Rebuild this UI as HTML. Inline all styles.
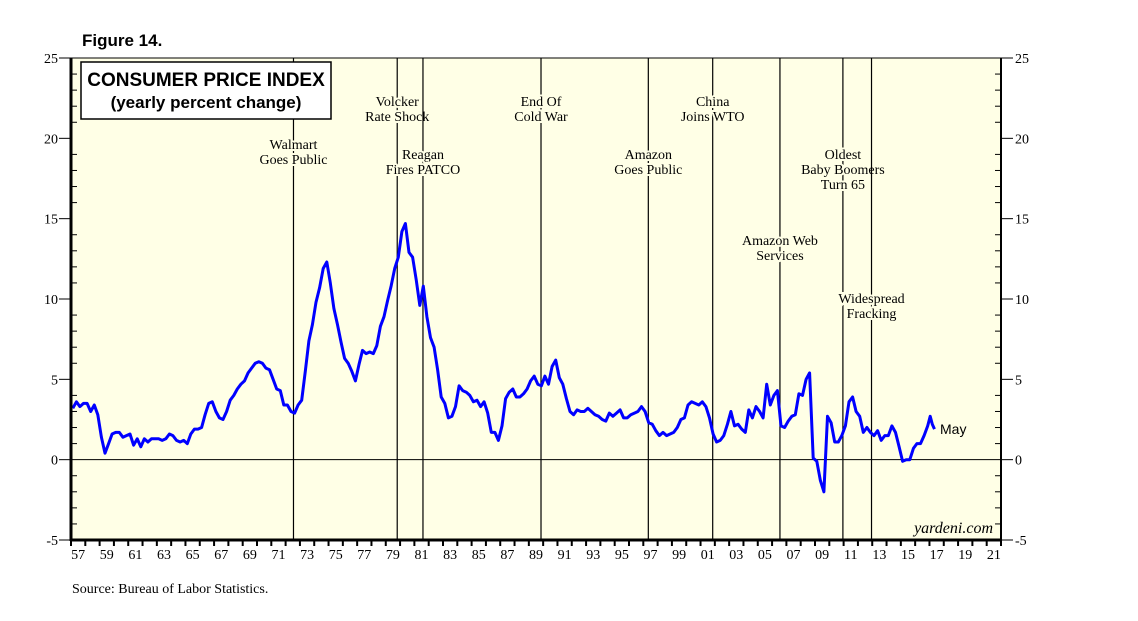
<!DOCTYPE html>
<html><head><meta charset="utf-8"><style>
body{margin:0;background:#fff;}
svg{display:block;}
</style></head><body>
<svg id="chart" width="1138" height="621" xmlns="http://www.w3.org/2000/svg" font-family="Liberation Serif, serif">
<text x="82" y="46" font-family="Liberation Sans, sans-serif" font-weight="bold" font-size="17">Figure 14.</text>
<rect x="71" y="58" width="930" height="482" fill="#ffffe6" stroke="#000" stroke-width="1"/>
<g id="grid"></g>
<g id="events"></g>
<path id="series" fill="none" stroke="#0000ff" stroke-width="3" stroke-linejoin="round"/>
<line x1="71" y1="58" x2="71" y2="541" stroke="#000" stroke-width="3"/>
<line x1="70" y1="540" x2="1001" y2="540" stroke="#000" stroke-width="3"/>
<line x1="1001" y1="58" x2="1001" y2="541" stroke="#000" stroke-width="2"/>
<g id="axes"></g>
<g>
<rect x="81" y="62" width="250" height="57" fill="#fff" stroke="#000" stroke-width="1.5"/>
<text x="206" y="86" text-anchor="middle" font-family="Liberation Sans, sans-serif" font-weight="bold" font-size="19">CONSUMER PRICE INDEX</text>
<text x="206" y="108" text-anchor="middle" font-family="Liberation Sans, sans-serif" font-weight="bold" font-size="17">(yearly percent change)</text>
</g>
<text x="940" y="434" font-family="Liberation Sans, sans-serif" font-size="14">May</text>
<text x="993" y="533" text-anchor="end" font-style="italic" font-size="16">yardeni.com</text>
<text x="72" y="593" font-size="14">Source: Bureau of Labor Statistics.</text>
</svg>
<script>
const years = [1957,1958,1959,1960,1961,1962,1963,1964,1965,1966,1967,1968,1969,1970,1971,1972,1973,1974,1975,1976,1977,1978,1979,1980,1981,1982,1983,1984,1985,1986,1987,1988,1989,1990,1991,1992,1993,1994,1995,1996,1997,1998,1999,2000,2001,2002,2003,2004,2005,2006,2007,2008,2009,2010,2011,2012,2013,2014,2015,2016];
const quarterly = [
[3.2,3.6,3.3,3.5],[3.5,3.0,3.4,2.8],[1.4,0.4,1.0,1.6],[1.7,1.7,1.4,1.5],[1.6,0.9,1.3,0.8],
[1.3,1.1,1.3,1.3],[1.3,1.2,1.3,1.6],[1.5,1.2,1.1,1.2],[1.0,1.6,1.9,1.9],[2.0,2.8,3.5,3.6],
[3.0,2.6,2.5,3.0],[3.7,4.0,4.4,4.7],[4.9,5.4,5.7,6.0],[6.1,6.0,5.7,5.6],[5.0,4.4,4.3,3.4],
[3.4,3.0,2.9,3.4],[3.7,5.5,7.4,8.4],[9.8,10.7,11.9,12.3],[11.0,9.4,8.4,7.3],[6.3,6.0,5.5,4.9],
[5.9,6.8,6.6,6.7],[6.6,7.1,8.3,8.9],[9.9,10.8,11.9,12.6],[14.2,14.7,12.9,12.6],[11.2,9.6,10.8,8.9],
[7.6,7.0,5.6,3.9],[3.5,2.6,2.7,3.3],[4.6,4.3,4.2,4.0],[3.6,3.7,3.3,3.6],[2.9,1.7,1.7,1.2],
[2.1,3.8,4.2,4.4],[3.9,3.9,4.1,4.4],[4.9,5.2,4.7,4.6],[5.2,4.7,5.8,6.2],[5.1,4.7,3.8,3.0],
[2.8,3.1,3.0,3.0],[3.2,3.0,2.8,2.7],[2.5,2.4,2.9,2.7],[2.9,3.1,2.6,2.6],[2.8,2.9,3.0,3.3],
[3.0,2.3,2.2,1.8],[1.5,1.7,1.5,1.6],[1.7,2.0,2.5,2.6],[3.4,3.6,3.5,3.4],[3.6,3.3,2.6,1.6],
[1.1,1.2,1.5,2.2],[3.0,2.1,2.2,1.9],[1.7,3.1,2.6,3.3],[3.0,2.6,4.7,3.4],[4.0,4.3,2.1,2.0],
[2.4,2.7,2.8,4.1],[4.0,5.0,5.4,0.1],[-0.1,-1.3,-2.0,2.7],[2.3,1.1,1.1,1.5],[2.1,3.6,3.9,3.0],
[2.7,1.7,2.0,1.7],[1.5,1.8,1.2,1.5],[1.5,2.1,1.7,0.8],[-0.1,0.0,0.0,0.7],[1.0,1.0,1.5,2.1]];
const tail = [2.7,2.2,1.9];
const yTicks = [-5,0,5,10,15,20,25];
const xLabels = ["57","59","61","63","65","67","69","71","73","75","77","79","81","83","85","87","89","91","93","95","97","99","01","03","05","07","09","11","13","15","17","19","21"];
const eventYears = [1972.55,1979.8,1981.6,1989.85,1997.35,2001.85,2006.55,2010.95,2012.95];
const eventTexts = [["Walmart","Goes Public"],["Volcker","Rate Shock"],["Reagan","Fires PATCO"],["End Of","Cold War"],["Amazon","Goes Public"],["China","Joins WTO"],["Amazon Web","Services"],["Oldest","Baby Boomers","Turn 65"],["Widespread","Fracking"]];
const eventTop = [145,102,155,102,155,102,241,155,299];

const NS="http://www.w3.org/2000/svg";
const X0=71,X1=1001,T0=1957,T1=2022,Y0=540,Y1=58,V0=-5,V1=25;
function xs(t){return X0+(t-T0)*(X1-X0)/(T1-T0);}
function ys(v){return Y0-(v-V0)*(Y0-Y1)/(V1-V0);}
function mk(tag,attrs,parent){const e=document.createElementNS(NS,tag);for(const k in attrs)e.setAttribute(k,attrs[k]);parent.appendChild(e);return e;}
const grid=document.getElementById('grid'),axes=document.getElementById('axes'),ev=document.getElementById('events');
const z=mk('line',{x1:X0,x2:X1,y1:ys(0),y2:ys(0),stroke:'#000','stroke-width':1},grid);


for(let v=V0;v<=V1;v++){
  const major=v%5===0,y=ys(v);
  mk('line',{x1:X0-(major?12:0),x2:X0+(major?0:6),y1:y,y2:y,stroke:'#000','stroke-width':1},axes);
  mk('line',{x1:X1-(major?0:6),x2:X1+(major?12:0),y1:y,y2:y,stroke:'#000','stroke-width':1},axes);
}
yTicks.forEach(v=>{
  const l=mk('text',{x:58,y:ys(v)+5,'text-anchor':'end','font-size':14},axes);l.textContent=v;
  
  
  const r=mk('text',{x:1015,y:ys(v)+5,'font-size':14},axes);r.textContent=v;
  
  
});
for(let t=T0;t<=T1;t++){mk('line',{x1:xs(t),x2:xs(t),y1:Y0,y2:Y0+6,stroke:'#000','stroke-width':2},axes);}
xLabels.forEach((s,i)=>{
  const t=T0+2*i+0.5;
  const l=mk('text',{x:xs(t),y:559,'text-anchor':'middle','font-size':14},axes);l.textContent=s;
  
  
});
eventYears.forEach((t,i)=>{
  const x=xs(t);
  const ln=mk('line',{x1:x,x2:x,y1:Y1,y2:Y0,stroke:'#000','stroke-width':1.2},ev);
  
  
  eventTexts[i].forEach((s,j)=>{
    const tx=mk('text',{x:x,y:eventTop[i]+j*15+4,'text-anchor':'middle','font-size':14,fill:'#000',stroke:'#ffffe6','stroke-width':4,'paint-order':'stroke'},ev);
    tx.textContent=s;
    
    
  });
});
let pts=[];
years.forEach((yr,i)=>quarterly[i].forEach((v,q)=>pts.push([yr+q*0.25+0.125,v])));
tail.forEach((v,k)=>pts.push([2017+k*0.15+0.05,v]));
document.getElementById('series').setAttribute('d',pts.map((p,i)=>(i?'L':'M')+xs(p[0]).toFixed(1)+','+ys(p[1]).toFixed(1)).join(''));
</script>
</body></html>
